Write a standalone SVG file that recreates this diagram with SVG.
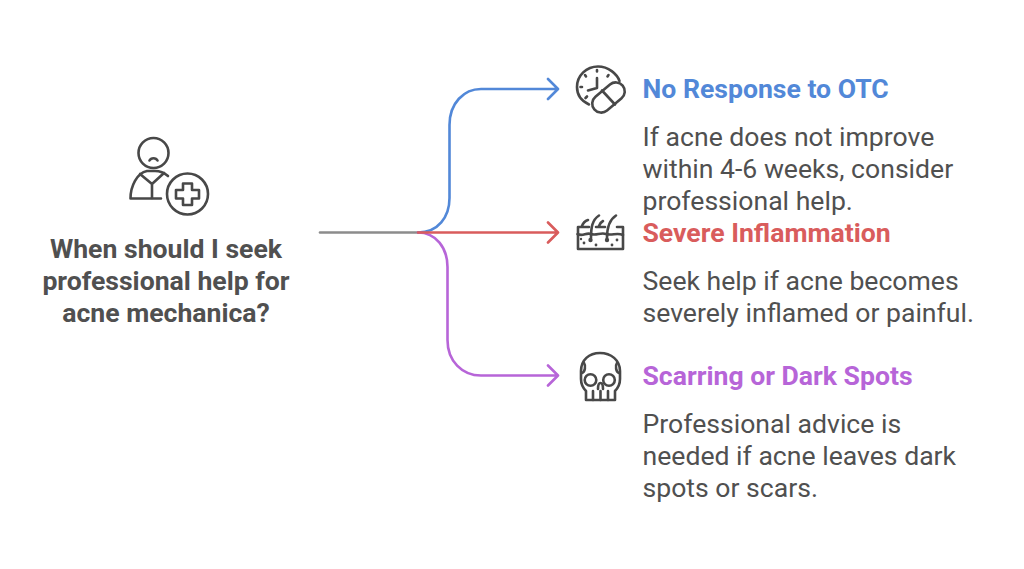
<svg xmlns="http://www.w3.org/2000/svg" width="1024" height="569" viewBox="0 0 1024 569">
<style>
text{font-family:Roboto,"Liberation Sans",sans-serif}
.q{font-size:26.6px;font-weight:700;fill:#505050;text-anchor:middle}
.h{font-size:26.6px;font-weight:700}
.b{font-size:26.6px;fill:#505050}
.c{fill:none;stroke-width:2.6;stroke-linecap:round;stroke-linejoin:round}
.i{fill:none;stroke:#484848;stroke-width:2.6;stroke-linecap:round;stroke-linejoin:round}
.d{fill:#484848;stroke:none}
</style>
<rect width="1024" height="569" fill="#ffffff"/>
<g id="connectors">
<path class="c" stroke="#8c8c8c" d="M320 232.500H418"/>
<path class="c" stroke="#5288d8" d="M418 232.500C438 232.500 449.500 217 449.500 198V125C449.500 103 464 89 481 89H557M548 79L558 89L548 99"/>
<path class="c" stroke="#b765d8" d="M418 232.500C436 232.500 447.500 248 447.500 267V340C447.500 361 462 375.500 481 375.500H557M548 365.500L558 375.500L548 385.500"/>
<path class="c" stroke="#d95c5c" d="M418 232.500H557M548 222.500L558 232.500L548 242.500"/>
</g>
<g id="node-question">
<g class="i">
<circle cx="153.500" cy="153" r="15"/>
<path d="M149.500 160.500C151 157.500 156 157.500 157.500 160.500"/>
<path d="M168 176C164 172.500 160 171 155 171H147C137 173 130.500 186 130.500 198.500H161"/>
<path d="M140 174L152 184L164 173M152 184V198"/>
<circle cx="187.500" cy="194" r="20.500"/>
<path d="M183 183.500H192V190H199V198.500H192V205H183V198.500H176V190H183Z"/>
</g>
<text class="q" x="166" y="257.500">When should I seek</text>
<text class="q" x="166" y="289.500">professional help for</text>
<text class="q" x="166" y="321.500">acne mechanica?</text>
</g>
<g id="node-otc">
<g class="i">
<path d="M589 104.500C581.500 101 577 94.500 577 87C577 75.500 586.500 66.500 598 66.500C608.500 66.500 617 74 619.500 81"/>
<path d="M597 70V71.500M585 75L586 76.500M608.500 75L607.500 76.500M580.500 87H582M585.500 98L587 96.500"/>
<path d="M597 78V88L588 90.500"/>
<rect x="590" y="88.500" width="37" height="18" rx="9" transform="rotate(-40 608.500 97.500)"/>
<path d="M602 90.500L615 104.500"/>
</g>
<text class="h" x="642.500" y="98" fill="#5288d8">No Response to OTC</text>
<text class="b" x="642.500" y="146">If acne does not improve</text>
<text class="b" x="642.500" y="178">within 4-6 weeks, consider</text>
<text class="b" x="642.500" y="210">professional help.</text>
</g>
<g id="node-inflammation">
<g class="i">
<path d="M589 227H578V249H623V227H617M605 227H596"/>
<path d="M577.500 234C583 237 586 232 591 234C596 236 601 232 606 234C612 236 617 232 623 235"/>
<path d="M591 238C591 228 592 220 599 215.500M607 238C607 228 609 220 616 215.500"/>
<path d="M582 226C583 223 585 221 588 220M599 226C600 223 601 222 603 221"/>
</g>
<circle class="d" cx="590.500" cy="240" r="2.200"/><circle class="d" cx="607" cy="240" r="2.200"/>
<circle class="d" cx="584" cy="243" r="1.400"/><circle class="d" cx="596" cy="245" r="1.400"/><circle class="d" cx="612" cy="245" r="1.400"/><circle class="d" cx="617" cy="240" r="1.400"/><circle class="d" cx="581" cy="239" r="1.200"/>
<text class="h" x="642.500" y="242" fill="#d95c5c">Severe Inflammation</text>
<text class="b" x="642.500" y="290">Seek help if acne becomes</text>
<text class="b" x="642.500" y="322">severely inflamed or painful.</text>
</g>
<g id="node-scarring">
<g class="i">
<path d="M586 391C582 387 581 384 581 379V371C581 360 589 353 600 353C611 353 620 360 620 371V379C620 384 619 387 615 391V400H586Z"/>
<path d="M593 391V400M600.500 391V400M608 391V400"/>
<circle cx="590.500" cy="380" r="5.800"/><circle cx="609" cy="380" r="5.800"/>
<path d="M598 389C598 385 599 383 600.500 383C602 383 603 385 603 389"/>
<path d="M582 373C585 372 586 366 584 363M619 373C616 372 615 366 617 363"/>
</g>
<text class="h" x="642.500" y="385" fill="#b765d8">Scarring or Dark Spots</text>
<text class="b" x="642.500" y="433">Professional advice is</text>
<text class="b" x="642.500" y="465">needed if acne leaves dark</text>
<text class="b" x="642.500" y="497">spots or scars.</text>
</g>
</svg>
